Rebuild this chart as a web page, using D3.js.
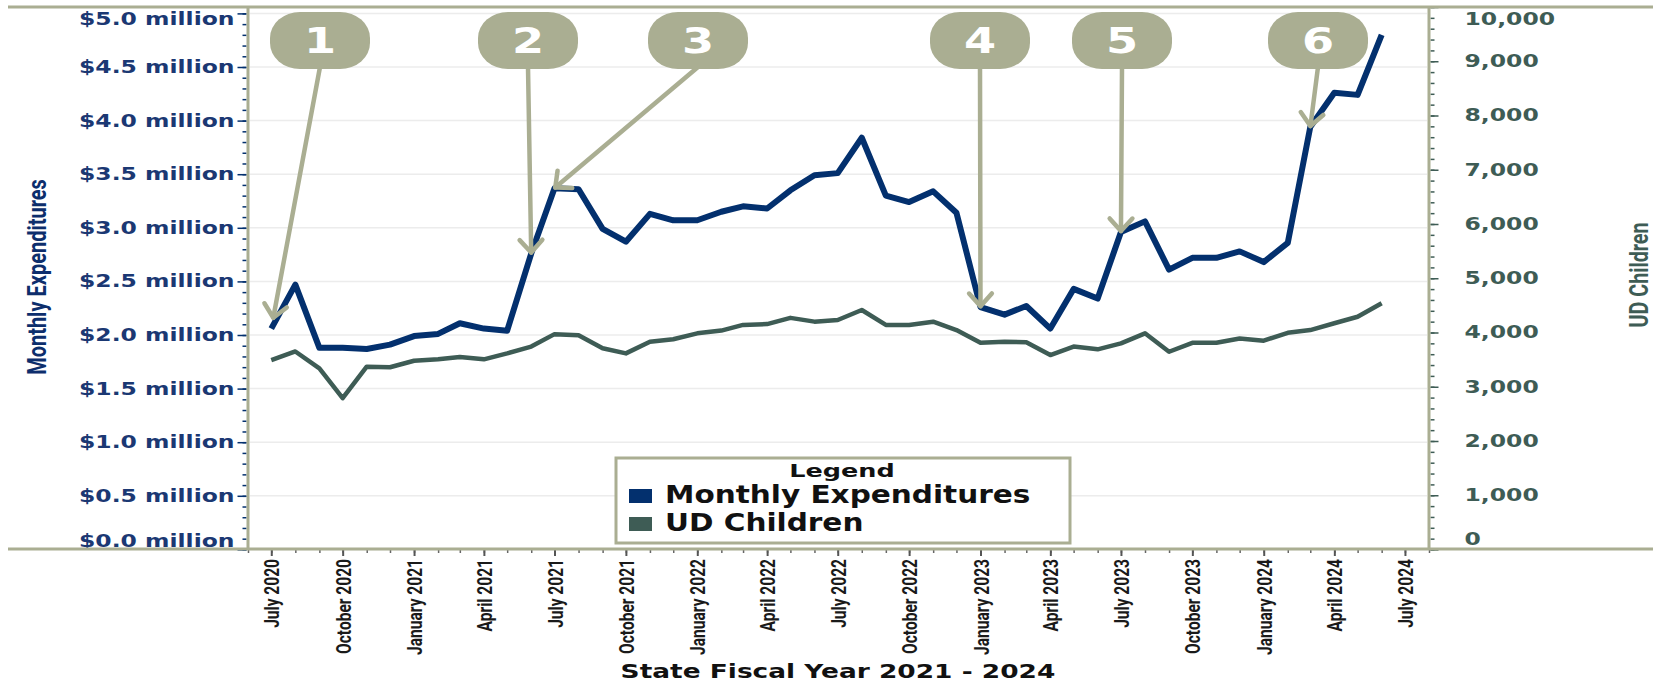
<!DOCTYPE html>
<html>
<head>
<meta charset="utf-8">
<script src="https://cdn.jsdelivr.net/npm/d3@7"></script>
<style>
  body { margin: 0; background: #fff; }
  svg { display: block; }
  text { font-family: "DejaVu Sans", sans-serif; font-weight: bold; }
</style>
</head>
<body>
<svg id="chart" width="1653" height="685"></svg>
<script>
'use strict';

// months shown (state fiscal years 2021 - 2024)
const months = [
  "2020-07","2020-08","2020-09","2020-10","2020-11","2020-12",
  "2021-01","2021-02","2021-03","2021-04","2021-05","2021-06",
  "2021-07","2021-08","2021-09","2021-10","2021-11","2021-12",
  "2022-01","2022-02","2022-03","2022-04","2022-05","2022-06",
  "2022-07","2022-08","2022-09","2022-10","2022-11","2022-12",
  "2023-01","2023-02","2023-03","2023-04","2023-05","2023-06",
  "2023-07","2023-08","2023-09","2023-10","2023-11","2023-12",
  "2024-01","2024-02","2024-03","2024-04","2024-05","2024-06"
];

// monthly expenditures, $ millions
const expenditures = [
  2.06, 2.47, 1.88, 1.88, 1.87, 1.91, 1.99, 2.01, 2.11, 2.06, 2.04, 2.76,
  3.37, 3.36, 2.99, 2.87, 3.13, 3.07, 3.07, 3.15, 3.20, 3.18, 3.35, 3.49,
  3.51, 3.84, 3.30, 3.24, 3.34, 3.14, 2.26, 2.19, 2.27, 2.06, 2.43, 2.34,
  2.96, 3.06, 2.61, 2.72, 2.72, 2.78, 2.68, 2.86, 3.94, 4.26, 4.24, 4.80
];

// UD children count
const udChildren = [
  3490, 3650, 3340, 2790, 3370, 3360, 3480, 3505, 3550, 3505, 3615, 3740,
  3970, 3950, 3710, 3615, 3830, 3875, 3985, 4035, 4140, 4155, 4270, 4200,
  4230, 4415, 4140, 4140, 4200, 4045, 3810, 3830, 3820, 3585, 3740, 3690,
  3800, 3985, 3645, 3810, 3810, 3890, 3850, 3995, 4045, 4170, 4290, 4540
];

const leftTicks = [0, 0.5, 1, 1.5, 2, 2.5, 3, 3.5, 4, 4.5, 5];
const rightTicks = [0, 1000, 2000, 3000, 4000, 5000, 6000, 7000, 8000, 9000, 10000];

// numbered callouts and the month each one points at
const calloutLabels = ["1", "2", "3", "4", "5", "6"];
const calloutMonths = ["2020-07", "2021-06", "2021-07", "2023-01", "2023-07", "2024-03"];

const seriesNames = ["Monthly Expenditures", "UD Children"];

// layout
const calloutCx = [320, 528, 698, 980, 1122, 1318];
const calloutGap = [11, 1, 1, 1, 1, 1];

const olive = "#aaae92";
const navy = "#03306e";
const slate = "#3e5c55";

const svg = d3.select("#chart");
const parse = d3.timeParse("%Y-%m");

const plot = { left: 248, right: 1429, top: 7, bottom: 549 };

const x = d3.scaleTime()
  .domain([new Date(2020, 5, 1), new Date(2024, 7, 1)])
  .range([plot.left, plot.right]);

const yLeft = d3.scaleLinear().domain([0, 5]).range([549.4, 13.4]);
const yRight = d3.scaleLinear().domain([0, 10000]).range([549.5, 7]);

const rows = months.map((m, i) => ({
  date: parse(m), exp: expenditures[i], kids: udChildren[i]
}));

// stretch text horizontally (the reference lettering is widened / condensed)
function stretch(sel, k) {
  sel.each(function () {
    const w = this.getComputedTextLength();
    d3.select(this).attr("textLength", w * k).attr("lengthAdjust", "spacingAndGlyphs");
  });
}

// gridlines
svg.append("g")
  .selectAll("line")
  .data(leftTicks)
  .join("line")
  .attr("x1", plot.left + 2).attr("x2", plot.right - 2)
  .attr("y1", d => yLeft(d)).attr("y2", d => yLeft(d))
  .attr("stroke", "#ececec").attr("stroke-width", 1.5);

// left axis: minor then major
svg.append("g")
  .attr("transform", `translate(${plot.left - 1.5},0)`)
  .call(d3.axisLeft(yLeft).tickValues(d3.range(0, 5.01, 0.1)).tickSize(4).tickFormat(""))
  .call(g => g.select(".domain").remove())
  .call(g => g.selectAll("line").attr("stroke", navy).attr("stroke-width", 1.5));

const leftAxis = svg.append("g")
  .attr("transform", `translate(${plot.left - 1.5},0)`)
  .call(d3.axisLeft(yLeft).tickValues(leftTicks).tickSize(9).tickPadding(3)
    .tickFormat(d => "$" + d3.format(".1f")(d) + " million"))
  .call(g => g.select(".domain").remove())
  .call(g => g.selectAll("line").attr("stroke", navy).attr("stroke-width", 1.5));

leftAxis.selectAll("text")
  .attr("fill", "#1b3873")
  .style("font-size", "17px")
  .attr("y", d => Math.max(19, Math.min(541, yLeft(d))) - yLeft(d))
  .call(stretch, 1.38);

// right axis: minor then major
svg.append("g")
  .attr("transform", `translate(${plot.right + 1.5},0)`)
  .call(d3.axisRight(yRight).tickValues(d3.range(0, 10001, 200)).tickSize(4).tickFormat(""))
  .call(g => g.select(".domain").remove())
  .call(g => g.selectAll("line").attr("stroke", slate).attr("stroke-width", 1.5));

const rightAxis = svg.append("g")
  .attr("transform", `translate(${plot.right + 1.5},0)`)
  .call(d3.axisRight(yRight).tickValues(rightTicks).tickSize(8).tickPadding(26)
    .tickFormat(d3.format(",")))
  .call(g => g.select(".domain").remove())
  .call(g => g.selectAll("line").attr("stroke", slate).attr("stroke-width", 1.5));

rightAxis.selectAll("text")
  .attr("fill", slate)
  .style("font-size", "17px")
  .attr("y", d => Math.max(19, Math.min(539, yRight(d))) - yRight(d))
  .call(stretch, 1.38);

// x axis: monthly minor ticks, quarterly labelled ticks
svg.append("g")
  .attr("transform", `translate(0,${plot.bottom})`)
  .call(d3.axisBottom(x).ticks(d3.timeMonth.every(1)).tickSize(4).tickFormat(""))
  .call(g => g.select(".domain").remove())
  .call(g => g.selectAll("line").attr("stroke", "#666").attr("stroke-width", 1.5));

const xAxis = svg.append("g")
  .attr("transform", `translate(0,${plot.bottom})`)
  .call(d3.axisBottom(x).ticks(d3.timeMonth.every(3)).tickSize(7).tickFormat(d3.timeFormat("%B %Y")))
  .call(g => g.select(".domain").remove())
  .call(g => g.selectAll("line").attr("stroke", "#555").attr("stroke-width", 2));

xAxis.selectAll("text")
  .attr("transform", "rotate(-90)")
  .attr("text-anchor", "end")
  .attr("x", -10).attr("y", 0).attr("dy", "0.36em")
  .attr("fill", "#1a1a1a")
  .style("font-family", "Roboto, sans-serif")
  .style("font-weight", "700")
  .style("font-size", "21px")
  .call(stretch, 0.74);

// frame lines
svg.append("line").attr("x1", 8).attr("x2", 1653).attr("y1", plot.top).attr("y2", plot.top)
  .attr("stroke", olive).attr("stroke-width", 3);
svg.append("line").attr("x1", 8).attr("x2", 1653).attr("y1", plot.bottom).attr("y2", plot.bottom)
  .attr("stroke", olive).attr("stroke-width", 3);
svg.append("line").attr("x1", plot.left).attr("x2", plot.left).attr("y1", plot.top).attr("y2", plot.bottom)
  .attr("stroke", olive).attr("stroke-width", 3);
svg.append("line").attr("x1", plot.right).attr("x2", plot.right).attr("y1", plot.top).attr("y2", plot.bottom)
  .attr("stroke", olive).attr("stroke-width", 3);

// series lines
const kidsLine = d3.line().x(d => x(d.date)).y(d => yRight(d.kids));
const expLine = d3.line().x(d => x(d.date)).y(d => yLeft(d.exp));

svg.append("path").datum(rows)
  .attr("fill", "none").attr("stroke", slate).attr("stroke-width", 4.5)
  .attr("stroke-linejoin", "round").attr("d", kidsLine);

svg.append("path").datum(rows)
  .attr("fill", "none").attr("stroke", navy).attr("stroke-width", 6)
  .attr("stroke-linejoin", "round").attr("d", expLine);

// callouts with arrows
const callouts = calloutLabels.map((label, i) => {
  const row = rows[months.indexOf(calloutMonths[i])];
  return { label, cx: calloutCx[i], gap: calloutGap[i], px: x(row.date), py: yLeft(row.exp) };
});

const arrows = svg.append("g")
  .attr("stroke", olive).attr("stroke-width", 4.5).attr("fill", "none")
  .attr("stroke-linecap", "round").attr("stroke-linejoin", "round");

callouts.forEach(c => {
  const sx = c.cx, sy = 67;
  const dx = c.px - sx, dy = c.py - sy;
  const len = Math.hypot(dx, dy);
  const ux = dx / len, uy = dy / len;
  const tx = c.px - ux * c.gap, ty = c.py - uy * c.gap;
  const wing = 17, a = 42 * Math.PI / 180;
  const w1 = [tx - wing * (ux * Math.cos(a) - uy * Math.sin(a)), ty - wing * (uy * Math.cos(a) + ux * Math.sin(a))];
  const w2 = [tx - wing * (ux * Math.cos(a) + uy * Math.sin(a)), ty - wing * (uy * Math.cos(a) - ux * Math.sin(a))];
  arrows.append("line").attr("x1", sx).attr("y1", sy).attr("x2", tx).attr("y2", ty);
  arrows.append("path").attr("d", `M${w1[0]},${w1[1]}L${tx},${ty}L${w2[0]},${w2[1]}`);
});

const pills = svg.append("g")
  .selectAll("g")
  .data(callouts)
  .join("g")
  .attr("transform", d => `translate(${d.cx},0)`);

pills.append("rect")
  .attr("x", -50).attr("y", 12).attr("width", 100).attr("height", 57)
  .attr("rx", 30).attr("ry", 26)
  .attr("fill", olive);

pills.append("text")
  .attr("y", 53).attr("text-anchor", "middle")
  .attr("fill", "#fff")
  .style("font-size", "35px")
  .text(d => d.label)
  .call(stretch, 1.32);

// axis titles
svg.append("text")
  .attr("transform", "translate(46,277) rotate(-90)")
  .attr("text-anchor", "middle")
  .attr("fill", "#0d2e6c")
  .style("font-family", "Roboto, sans-serif").style("font-weight", "700").style("font-size", "25px")
  .text("Monthly Expenditures")
  .call(stretch, 0.8);

svg.append("text")
  .attr("transform", "translate(1648,275) rotate(-90)")
  .attr("text-anchor", "middle")
  .attr("fill", slate)
  .style("font-family", "Roboto, sans-serif").style("font-weight", "700").style("font-size", "25px")
  .text("UD Children")
  .call(stretch, 0.79);

svg.append("text")
  .attr("x", 838).attr("y", 678)
  .attr("text-anchor", "middle")
  .attr("fill", "#111")
  .style("font-size", "19px")
  .text("State Fiscal Year 2021 - 2024")
  .call(stretch, 1.39);

// legend
const legend = svg.append("g");
legend.append("rect")
  .attr("x", 616).attr("y", 458).attr("width", 454).attr("height", 85)
  .attr("fill", "#fff").attr("stroke", olive).attr("stroke-width", 3);

legend.append("text")
  .attr("x", 842).attr("y", 477).attr("text-anchor", "middle")
  .attr("fill", "#111").style("font-size", "17px")
  .text("Legend")
  .call(stretch, 1.5);

const legendColors = [navy, slate];
const items = legend.selectAll(".item")
  .data(seriesNames)
  .join("g")
  .attr("class", "item")
  .attr("transform", (d, i) => `translate(0,${i * 28})`);

items.append("rect")
  .attr("x", 629).attr("y", 489).attr("width", 23).attr("height", 14)
  .attr("fill", (d, i) => legendColors[i]);

items.append("text")
  .attr("x", 665).attr("y", 503)
  .attr("fill", "#111").style("font-size", "24px")
  .text(d => d)
  .call(stretch, 1.23);
</script>
</body>
</html>
